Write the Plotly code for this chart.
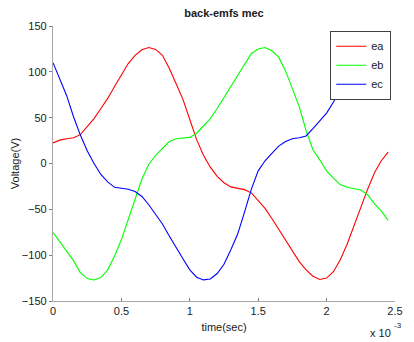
import plotly.graph_objects as go

# Time samples in milliseconds
time_ms = [0.00, 0.05, 0.10, 0.15, 0.20, 0.25, 0.30, 0.35, 0.40, 0.45,
           0.50, 0.55, 0.60, 0.65, 0.70, 0.75, 0.80, 0.85, 0.90, 0.95,
           1.00, 1.05, 1.10, 1.15, 1.20, 1.25, 1.30, 1.35, 1.40, 1.45,
           1.50, 1.55, 1.60, 1.65, 1.70, 1.75, 1.80, 1.85, 1.90, 1.95,
           2.00, 2.05, 2.10, 2.15, 2.20, 2.25, 2.30, 2.35, 2.40, 2.45]

# Phase back-EMFs (V)
ea = [22.5, 25.5, 27, 28, 31.5, 40, 49, 60, 71, 84,
      97, 109, 118, 124, 126.5, 124.5, 118, 104, 87, 70,
      48, 26, 9, -4, -14, -21, -25.5, -27, -28.5, -32,
      -40, -49, -60, -72, -84, -96, -107, -116, -123, -126.5,
      -125, -118, -105, -88, -68, -47, -28, -10, 3, 12.5]

eb = [-75, -85, -96, -106, -119, -125.5, -127, -124.5, -116, -101,
      -83, -62, -39, -17, -1, 9, 16, 24, 27, 27.5,
      28.5, 33, 41, 49, 60, 72, 85, 97, 109, 120,
      125, 126.5, 123, 116, 101, 82, 62, 36, 15, 4,
      -8, -16, -23, -26, -27.5, -29, -34, -44, -52, -62]

ec = [110, 92, 74, 51, 31, 14, 0, -12, -20, -26,
      -27, -28, -30.5, -36, -45, -55, -66, -79, -92, -104,
      -116, -124, -127, -126, -120, -110, -94, -77, -53, -28,
      -8, 3, 11, 19, 24, 27, 28, 30, 38, 46,
      55, 67, 81, 94, 106, 116, 122, 126, 126, 121]

series_names = ["ea", "eb", "ec"]
series_colors = ["#ff0000", "#00ff00", "#0000ff"]

x_tick_ms = [0, 0.5, 1, 1.5, 2, 2.5]
x_tick_text = ["0", "0.5", "1", "1.5", "2", "2.5"]
y_ticks = [-150, -100, -50, 0, 50, 100, 150]

time_s = [t * 1e-3 for t in time_ms]
font_family = "Liberation Sans, Arial, sans-serif"
text_color = "#1a1a1a"

fig = go.Figure()
for name, values, color in zip(series_names, [ea, eb, ec], series_colors):
    fig.add_trace(go.Scatter(x=time_s, y=values, mode="lines", name=name,
                             line=dict(color=color, width=1.1)))

fig.update_layout(
    width=414, height=342,
    margin=dict(l=53, r=11, t=26, b=40, pad=0),
    paper_bgcolor="white", plot_bgcolor="white",
    font=dict(family=font_family, size=11, color=text_color),
    title=dict(text="<b>back-emfs mec</b>", x=0.5, xref="paper", xanchor="center",
               y=1 - 13 / 342, yref="container", yanchor="middle",
               font=dict(size=11, color=text_color)),
    showlegend=True,
    legend=dict(x=0.989, xanchor="right", y=0.983, yanchor="top",
                bgcolor="white", bordercolor="#404040", borderwidth=1,
                font=dict(size=11, color=text_color), tracegroupgap=0),
    xaxis=dict(range=[0, 2.5e-3], tickvals=[t * 1e-3 for t in x_tick_ms], ticktext=x_tick_text,
               showline=True, linecolor="#a8a8a8", linewidth=1.3, mirror=False,
               ticks="inside", ticklen=3, tickcolor="#808080", showgrid=False, zeroline=False,
               title=dict(text="time(sec)", standoff=6, font=dict(size=11))),
    yaxis=dict(range=[-150, 150], tickvals=y_ticks,
               showline=True, linecolor="#a8a8a8", linewidth=1.3, mirror=False,
               ticks="outside", ticklen=3, tickcolor="#808080", showgrid=False, zeroline=False,
               title=dict(text="Voltage(V)", standoff=0, font=dict(size=11))),
    annotations=[
        # axis multiplier "x 10^-3" below the right end of the time axis
        dict(text="x 10", xref="paper", yref="paper", x=0.993, y=-0.115,
             xanchor="right", yanchor="middle", showarrow=False,
             font=dict(size=11, color=text_color)),
        dict(text="-3", xref="paper", yref="paper", x=0.99, y=-0.088,
             xanchor="left", yanchor="middle", showarrow=False,
             font=dict(size=8, color=text_color)),
    ],
)

fig.write_html("out.html")
